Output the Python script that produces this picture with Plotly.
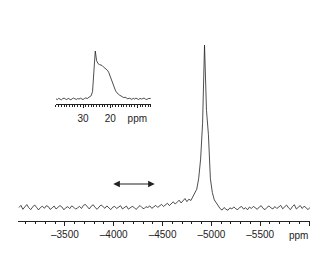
import plotly.graph_objects as go

# Main spectrum: chemical shift grid (ppm) and intensities (baseline 0, peak 100)
main_start = -3030
main_step = -20
main_intensity = [
    0.3, 1.6, -0.8, 0.9, 2.1, 0.2, -1.0, 0.6, 1.9, 0.4,
    -1.2, 0.3, 1.1, -0.2, 1.4, 0.9, -0.9, 0.1, 1.2, -0.6,
    0.4, 1.5, 0.6, -1.1, 0.2, 0.8, -0.4, 1.3, 0.5, -0.7,
    0.1, 1.0, -0.3, 1.6, 2.2, 0.7, -0.6, 1.1, 2.0, 0.3,
    -0.8, 0.6, 1.9, 0.9, -0.2, 1.3, 0.4, -1.0, 0.5, 1.0,
    -0.3, 0.6, 1.4, -0.6, 0.2, 1.2, -0.7, 0.1, 1.0, 0.3,
    -0.9, 0.5, 1.5, 0.2, -0.5, 0.8, 0.3, 1.3, -0.2, 0.7,
    1.6, 0.4, 1.1, 2.2, 0.9, 2.0, 2.9, 1.5, 2.6, 3.8,
    2.4, 3.5, 4.8, 3.1, 4.4, 5.8, 3.9, 5.4, 4.6, 7.0,
    8.5, 11.5, 18.0, 30.0, 52.0, 100.0, 60.0, 45.0, 18.0, 9.5,
    5.0, 3.0, 1.2, -0.4, -1.3, 0.3, -0.8, -1.4, 0.1, -0.6,
    0.7, -0.5, -1.0, 0.4, 0.9, -0.7, 0.2, -1.1, 0.6, -0.3,
    1.0, 0.1, -0.8, 0.6, 1.4, -0.3, -1.0, 0.4, 1.3, 0.1,
    -0.6, 0.9, -0.3, 0.6, 1.6, -0.5, 0.7, 1.8, 0.1, -1.0,
    0.9, 2.0, -0.6, 0.4, 1.5, -0.3, 1.1, 0.1, -1.0, 0.4,
]
main_ppm = [main_start + main_step * i for i in range(len(main_intensity))]

main_tickvals = [-3500, -4000, -4500, -5000, -5500, -6000]
main_ticktext = ["\u20133500", "\u20134000", "\u20134500", "\u20135000", "\u20135500", ""]

# Inset spectrum
inset_start = 40.0
inset_step = -0.5
inset_intensity = [
    0.5, -1.0, 1.5, 0.0, -1.5, 1.0, 2.0, 0.0, -1.0, 1.5,
    0.5, -1.5, 0.8, 2.0, 0.5, -0.8, 1.0, 0.0, 1.8, 0.5,
    -1.0, 1.2, 2.5, 1.0, 3.0, 4.0, 7.0, 16.0, 55.0, 100.0,
    80.0, 74.0, 72.0, 71.0, 70.0, 67.0, 65.0, 63.0, 60.0, 55.0,
    47.0, 39.0, 30.0, 22.0, 17.0, 13.0, 10.0, 8.0, 6.5, 5.0,
    3.0, 4.0, 2.0, 0.5, 2.0, 1.0, -0.5, 1.5, 0.0, 2.0,
    0.5, -1.0, 1.5, 0.0, 1.2, 2.0, 0.0, -1.0, 1.0, 0.5, 1.5,
]
inset_ppm = [inset_start + inset_step * j for j in range(len(inset_intensity))]
inset_tickvals = [30, 20, 10]
inset_ticktext = ["30", "20", "ppm"]

# Double arrow span (ppm) and height
arrow_from = -3980
arrow_to = -4420
arrow_level = 14.7

ink = "#222222"

fig = go.Figure()
fig.add_trace(go.Scatter(x=main_ppm, y=main_intensity, mode="lines",
                         line=dict(color=ink, width=0.8), xaxis="x", yaxis="y",
                         hoverinfo="skip"))
fig.add_trace(go.Scatter(x=inset_ppm, y=inset_intensity, mode="lines",
                         line=dict(color=ink, width=0.8), xaxis="x2", yaxis="y2",
                         hoverinfo="skip"))

fig.add_annotation(x=arrow_to, y=arrow_level, ax=arrow_from, ay=arrow_level,
                   xref="x", yref="y", axref="x", ayref="y", text="",
                   showarrow=True, arrowhead=2, arrowside="end+start",
                   arrowsize=1.2, arrowwidth=1.1, arrowcolor=ink)
fig.add_annotation(x=-6010, y=0, xref="x", yref="paper", text="ppm",
                   showarrow=False, xanchor="right", yanchor="top", yshift=-7,
                   font=dict(size=10, color=ink))

fig.update_layout(
    width=332, height=257,
    margin=dict(l=18, r=22, t=40, b=36),
    plot_bgcolor="white", paper_bgcolor="white",
    showlegend=False,
    font=dict(family="Liberation Sans, Arial, sans-serif", size=10, color=ink),
    xaxis=dict(range=[-3020, -6010], tickvals=main_tickvals, ticktext=main_ticktext,
               ticks="outside", ticklen=4, tickwidth=1, tickcolor=ink,
               showline=True, linecolor=ink, linewidth=1, showgrid=False,
               zeroline=False, anchor="y",
               minor=dict(dtick=100, tick0=-3000, ticks="outside", ticklen=2,
                          tickcolor=ink, showgrid=False)),
    yaxis=dict(range=[-7.98, 103.1], visible=False, domain=[0, 1]),
    xaxis2=dict(domain=[0.130, 0.455], anchor="y2", range=[40, 5],
                tickvals=inset_tickvals, ticktext=inset_ticktext,
                ticks="outside", ticklen=3, tickwidth=1, tickcolor=ink,
                showline=True, linecolor=ink, linewidth=1, showgrid=False,
                zeroline=False, ticklabelstandoff=2,
                minor=dict(dtick=1, tick0=0, ticks="outside", ticklen=1.5,
                           tickcolor=ink, showgrid=False)),
    yaxis2=dict(domain=[0.646, 0.972], anchor="x2", range=[-10.4, 112.5],
                visible=False),
)

fig.write_html("out.html", config={"displayModeBar": False},
               post_script="document.body.style.margin='0';document.body.style.padding='0';")
